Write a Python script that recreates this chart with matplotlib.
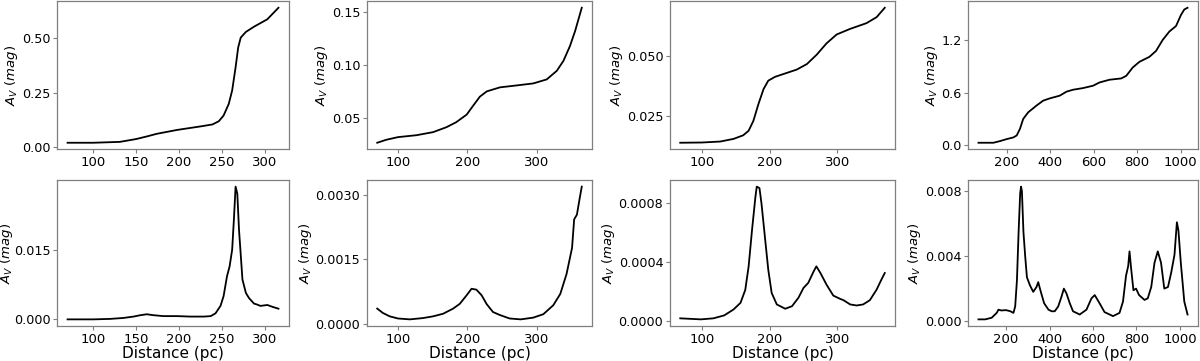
import matplotlib
matplotlib.use("Agg")
import matplotlib.pyplot as plt

# ---- Data ----
# Panel 1 (top-left): cumulative A_V
d1 = [70, 100, 131, 150, 162.5, 174, 198, 225, 239, 246.5, 252, 258, 262, 266, 269, 272, 278, 287.5, 303, 316]
a1 = [0.020, 0.020, 0.024, 0.037, 0.049, 0.061, 0.079, 0.095, 0.104, 0.119, 0.145, 0.198, 0.26, 0.366, 0.457, 0.503, 0.529, 0.553, 0.587, 0.640]

# Panel 2 (top, 2nd)
d2 = [70, 83, 100, 126.5, 150.6, 170, 184, 199, 208, 218, 228, 247, 271, 295, 314.5, 329, 338.6, 348, 355.4, 365]
a2 = [0.0266, 0.0294, 0.0319, 0.0337, 0.0366, 0.0413, 0.046, 0.0531, 0.0612, 0.070, 0.075, 0.0788, 0.0806, 0.0825, 0.0863, 0.0944, 0.1038, 0.1178, 0.1319, 0.1538]

# Panel 3 (top, 3rd)
d3 = [68, 100, 127, 146.7, 161, 169, 176, 183.5, 191, 198, 208, 223, 240, 255, 269.5, 284, 299, 318.7, 343, 358, 370]
a3 = [0.0138, 0.0139, 0.0143, 0.0154, 0.0169, 0.0188, 0.0229, 0.0299, 0.0361, 0.0396, 0.0412, 0.0426, 0.0442, 0.0465, 0.0504, 0.0551, 0.0588, 0.0611, 0.0635, 0.066, 0.0699]

# Panel 4 (top, 4th)
d4 = [70, 139, 169, 200, 230.5, 246, 261, 276, 299, 337, 368, 398.5, 444, 475, 505, 551, 597, 627.5, 673, 727, 750, 780, 810.7, 856.5, 887, 917.6, 948, 979, 1001.5, 1017, 1032]
a4 = [0.023, 0.023, 0.042, 0.065, 0.084, 0.107, 0.183, 0.297, 0.373, 0.45, 0.507, 0.533, 0.564, 0.61, 0.632, 0.651, 0.678, 0.716, 0.747, 0.762, 0.792, 0.888, 0.953, 1.01, 1.078, 1.204, 1.30, 1.364, 1.49, 1.554, 1.574]

# Panel 5 (bottom-left): differential A_V
d5 = [70, 100, 119.5, 135, 147, 155, 162.5, 170, 182, 198, 213, 229, 237, 242.6, 248.4, 252, 256, 259, 262, 264, 266, 268, 270, 274, 278, 281.6, 287.5, 291, 295, 299, 303, 309, 316]
a5 = [0.0000, 0.0000, 0.0001, 0.0003, 0.0006, 0.0009, 0.0011, 0.0009, 0.0007, 0.0007, 0.0006, 0.0006, 0.0007, 0.0013, 0.0029, 0.0050, 0.0093, 0.0114, 0.0150, 0.0214, 0.0286, 0.0271, 0.0193, 0.0086, 0.0057, 0.0046, 0.0034, 0.0032, 0.0029, 0.0030, 0.0031, 0.0027, 0.0023]

# Panel 6 (bottom, 2nd)
d6 = [70, 78, 88, 100, 117, 136, 150.6, 165, 179.5, 189, 199, 206, 213, 220.5, 228, 237, 247, 261, 277, 295, 309.6, 324, 334, 343, 351, 354, 358, 362, 365]
a6 = [0.00036, 0.00026, 0.00018, 0.00013, 0.00011, 0.00014, 0.00018, 0.00024, 0.00036, 0.00047, 0.00067, 0.00082, 0.00080, 0.00067, 0.00046, 0.00028, 0.00021, 0.00013, 0.00011, 0.00015, 0.00023, 0.00044, 0.00070, 0.00116, 0.00177, 0.00243, 0.00254, 0.00292, 0.00319]

# Panel 7 (bottom, 3rd)
d7 = [68, 98.5, 117, 133, 146.7, 157, 164, 169, 174, 179, 181, 185, 188, 193, 198, 203, 210.6, 223, 233, 242.5, 250, 257, 265, 269, 275, 284, 294, 304, 309, 319, 328.5, 338, 348, 358, 365, 370]
a7 = [0.000018, 0.000011, 0.000018, 0.000038, 0.000078, 0.000123, 0.00021, 0.00037, 0.000616, 0.00084, 0.00091, 0.00090, 0.000795, 0.00057, 0.000347, 0.00019, 0.000112, 0.000083, 0.0001, 0.000157, 0.000224, 0.000258, 0.000336, 0.00037, 0.000325, 0.000246, 0.000172, 0.00015, 0.000141, 0.000112, 0.000105, 0.000112, 0.000141, 0.000213, 0.00028, 0.000325]

# Panel 8 (bottom, 4th)
d8 = [73, 104, 134, 157, 165, 178, 200, 220, 234, 242, 250, 258, 265, 269, 273, 280, 288, 296, 310, 325, 340, 348, 360, 375, 395, 410, 424, 440, 455, 466, 478, 493, 508, 539, 570, 593, 608, 630, 653, 692, 722, 738, 752, 762, 768, 775, 786, 798, 812, 837, 852, 868, 883, 898, 913, 928, 945, 960, 975, 986, 993, 1004, 1020, 1035]
a8 = [0.0001, 0.0001, 0.0002, 0.0005, 0.0007, 0.00065, 0.00067, 0.0006, 0.0005, 0.0009, 0.0025, 0.0056, 0.0079, 0.0083, 0.0080, 0.0055, 0.0040, 0.0027, 0.0022, 0.0018, 0.0021, 0.0024, 0.0018, 0.0011, 0.0007, 0.0006, 0.0006, 0.0009, 0.0015, 0.0020, 0.0017, 0.0011, 0.0006, 0.0004, 0.0007, 0.0014, 0.0016, 0.0011, 0.00055, 0.0003, 0.0005, 0.0012, 0.0028, 0.0034, 0.0043, 0.0033, 0.0019, 0.0020, 0.0016, 0.0013, 0.0014, 0.0021, 0.0036, 0.0043, 0.0036, 0.0020, 0.0021, 0.0030, 0.0041, 0.0061, 0.0056, 0.0036, 0.0012, 0.0004]

xs = [d1, d2, d3, d4, d5, d6, d7, d8]
ys = [a1, a2, a3, a4, a5, a6, a7, a8]

xticks = [[100, 150, 200, 250, 300], [100, 200, 300], [100, 200, 300], [200, 400, 600, 800, 1000]] * 2
yticks = [[0.0, 0.25, 0.5], [0.05, 0.10, 0.15], [0.025, 0.050], [0.0, 0.6, 1.2],
          [0.0, 0.015], [0.0, 0.0015, 0.0030], [0.0, 0.0004, 0.0008], [0.0, 0.004, 0.008]]
yfmt = ["%.2f", "%.2f", "%.3f", "%.1f", "%.3f", "%.4f", "%.4f", "%.3f"]

ylabel = r"$A_V\ (mag)$"
xlabel = "Distance (pc)"

# ---- Layout ----
W, H = 1200, 361
fig = plt.figure(figsize=(W / 100, H / 100), dpi=100)
cols = [(57, 289), (367, 592), (670, 895), (968, 1198)]
rows = [(1, 149.5), (180, 326)]

fs_xtick = 9.5
fs_ytick = 9.2
fs_ylab = 9.5
fs_xlab = 11
spine_c = "#7f7f7f"
for i in range(8):
    r, c = divmod(i, 4)
    x0, x1 = cols[c]
    yt, yb = rows[r]
    ax = fig.add_axes([x0 / W, 1 - yb / H, (x1 - x0) / W, (yb - yt) / H])
    ax.plot(xs[i], ys[i], color="black", lw=1.3)
    ax.set_xticks(xticks[i])
    ax.set_yticks(yticks[i])
    ax.yaxis.set_major_formatter(matplotlib.ticker.FormatStrFormatter(yfmt[i]))
    ax.tick_params(color=spine_c, length=3, width=0.8, pad=1.8)
    ax.tick_params(axis="x", labelsize=fs_xtick)
    ax.tick_params(axis="y", labelsize=fs_ytick)
    for s in ax.spines.values():
        s.set_color(spine_c)
        s.set_linewidth(0.9)
    ax.set_ylabel(ylabel, fontsize=fs_ylab, labelpad=1)
    if i == 4:
        # keep the label inside the figure's left edge
        ax.yaxis.set_label_coords(-(57 - 15) / (x1 - x0), 0.5)
    if r == 1:
        ax.set_xlabel(xlabel, fontsize=fs_xlab, labelpad=0)

fig.savefig("out.png", dpi=100)
